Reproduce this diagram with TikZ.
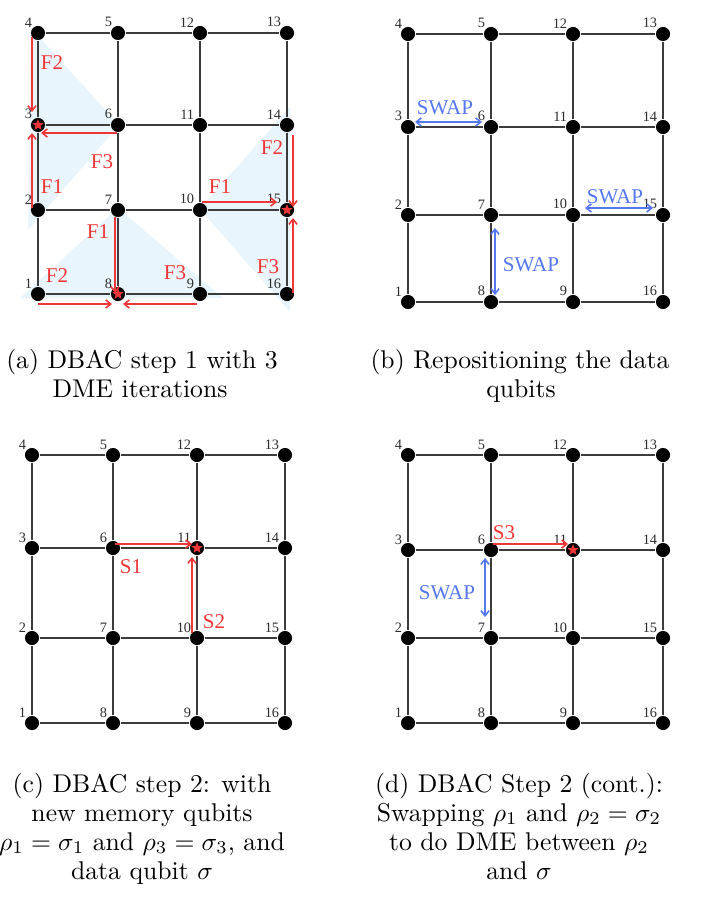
\documentclass[tikz,border=0pt]{standalone}
\usepackage{fontspec}
\usetikzlibrary{calc,arrows.meta,shapes.geometric}
\newfontfamily\labfont{Liberation Serif}
\definecolor{qred}{RGB}{240,55,55}
\definecolor{qblue}{RGB}{85,120,240}
\definecolor{qtri}{RGB}{233,245,253}
\definecolor{qedge}{RGB}{60,60,60}
\definecolor{qnum}{RGB}{45,45,45}
\tikzset{
  qb/.style={circle,fill=black,draw=none,minimum size=5.5pt,inner sep=0pt,label distance=0.3pt},
  qlab/.style={font=\labfont\fontsize{5.6}{6}\selectfont,text=qnum,inner sep=0pt},
  qedgeline/.style={draw=qedge,line width=0.8pt},
  qstar/.style={star,star points=5,star point ratio=2.3,fill=qred,draw=none,minimum size=4.6pt,inner sep=0pt},
  redarr/.style={draw=qred,line width=0.6pt,-{Straight Barb[length=2pt,width=3.2pt]}},
  bluearr/.style={draw=qblue,line width=0.6pt,{Straight Barb[length=2pt,width=3.2pt]}-{Straight Barb[length=2pt,width=3.2pt]}},
  flab/.style={font=\labfont\fontsize{8.2}{9}\selectfont,text=qred,inner sep=0pt},
  slab/.style={font=\labfont\fontsize{8.2}{9}\selectfont,text=qblue,inner sep=0pt},
  captext/.style={font=\fontsize{10}{12}\selectfont,inner sep=0pt,anchor=base}
}
\newcommand\qnode[4]{\node[qb,label={[qlab,name=#1l]north west:#2}] (#1) at (#3,#4) {};}
\newcommand\qgrid[9]{%
  \qnode{#1n4}{4}{#2}{#6}\qnode{#1n5}{5}{#3}{#6}\qnode{#1n12}{12}{#4}{#6}\qnode{#1n13}{13}{#5}{#6}%
  \qnode{#1n3}{3}{#2}{#7}\qnode{#1n6}{6}{#3}{#7}\qnode{#1n11}{11}{#4}{#7}\qnode{#1n14}{14}{#5}{#7}%
  \qnode{#1n2}{2}{#2}{#8}\qnode{#1n7}{7}{#3}{#8}\qnode{#1n10}{10}{#4}{#8}\qnode{#1n15}{15}{#5}{#8}%
  \qnode{#1n1}{1}{#2}{#9}\qnode{#1n8}{8}{#3}{#9}\qnode{#1n9}{9}{#4}{#9}\qnode{#1n16}{16}{#5}{#9}%
  \draw[qedgeline] (#1n4)--(#1n5) (#1n5)--(#1n12) (#1n12)--(#1n13)
    (#1n3)--(#1n6) (#1n6)--(#1n11) (#1n11)--(#1n14)
    (#1n2)--(#1n7) (#1n7)--(#1n10) (#1n10)--(#1n15)
    (#1n1)--(#1n8) (#1n8)--(#1n9) (#1n9)--(#1n16)
    (#1n4)--(#1n3) (#1n3)--(#1n2) (#1n2)--(#1n1)
    (#1n5)--(#1n6) (#1n6)--(#1n7) (#1n7)--(#1n8)
    (#1n12)--(#1n11) (#1n11)--(#1n10) (#1n10)--(#1n9)
    (#1n13)--(#1n14) (#1n14)--(#1n15) (#1n15)--(#1n16);%
}
\begin{document}
\begin{tikzpicture}[x=0.39pt,y=-0.39pt]
\useasboundingbox[fill=white] (0,0) rectangle (706,898);
% ---------- panel (a) ----------
\fill[qtri] (31,28) -- (119,125) -- (28,230) -- cycle;
\fill[qtri] (118,208) -- (223,298) -- (20,298) -- cycle;
\fill[qtri] (290,107) -- (290,312) -- (200,209) -- cycle;
\qgrid{a}{38}{118}{200}{287}{33}{125}{210}{294}
\node[qstar] (as3) at (an3) {};
\node[qstar] (as8) at (an8) {};
\node[qstar] (as15) at (an15) {};
\draw[redarr] ($(an4)+(-6,4)$) -- ($(an3)+(-6,-13)$);
\draw[redarr] ($(an6)+(-1,8)$) -- ($(an3)+(3,8)$);
\draw[redarr] ($(an2)+(-6,-2)$) -- ($(an3)+(-6,8)$);
\draw[redarr] ($(an7)+(-3,7)$) -- ($(an8)+(-3,-1)$);
\draw[redarr] ($(an1)+(0,10)$) -- ($(an8)+(-6,10)$);
\draw[redarr] ($(an9)+(-3,10)$) -- ($(an8)+(5,10)$);
\draw[redarr] ($(an10)+(2,-8)$) -- ($(an15)+(-10,-8)$);
\draw[redarr] ($(an14)+(6,10)$) -- ($(an15)+(6,-3)$);
\draw[redarr] ($(an16)+(6,-1)$) -- ($(an15)+(6,8)$);
\node[flab] (aF2a) at (52,63) {F2};
\node[flab] (aF3a) at (102,162) {F3};
\node[flab] (aF1a) at (52,187) {F1};
\node[flab] (aF1b) at (98,232) {F1};
\node[flab] (aF2b) at (57,276) {F2};
\node[flab] (aF3b) at (175,273) {F3};
\node[flab] (aF1c) at (220,187) {F1};
\node[flab] (aF2c) at (272,148) {F2};
\node[flab] (aF3c) at (268,267) {F3};
\node[captext] (capa1) at (142,368) {(a) DBAC step 1 with 3};
\node[captext] (capa2) at (140,397) {DME iterations};
% ---------- panel (b) ----------
\qgrid{b}{408}{491}{573}{663}{34}{127}{215}{302}
\draw[bluearr] ($(bn3)+(7,-5)$) -- ($(bn6)+(-9,-5)$);
\draw[bluearr] ($(bn10)+(12,-7)$) -- ($(bn15)+(-10,-7)$);
\draw[bluearr] ($(bn7)+(4,13)$) -- ($(bn8)+(4,-7)$);
\node[slab] (bS1) at (445,108) {SWAP};
\node[slab] (bS2) at (615,197) {SWAP};
\node[slab] (bS3) at (531,265) {SWAP};
\node[captext] (capb1) at (520,368) {(b) Repositioning the data};
\node[captext] (capb2) at (521,397) {qubits};
% ---------- panel (c) ----------
\qgrid{c}{32}{113}{197}{285}{455}{548}{638}{723}
\node[qstar] (cs11) at (cn11) {};
\draw[redarr] ($(cn6)+(2,-4)$) -- ($(cn11)+(-5,-4)$);
\draw[redarr] ($(cn10)+(-5,-5)$) -- ($(cn11)+(-5,9)$);
\node[flab] (cS1) at (131,567) {S1};
\node[flab] (cS2) at (214,622) {S2};
\node[captext] (capc1) at (142,792) {(c) DBAC step 2: with};
\node[captext] (capc2) at (142,821) {new memory qubits};
\node[captext] (capc3) at (142,850) {$\rho_1=\sigma_1$ and $\rho_3=\sigma_3$, and};
\node[captext] (capc4) at (142,879) {data qubit $\sigma$};
% ---------- panel (d) ----------
\qgrid{d}{408}{491}{573}{663}{455}{550}{638}{723}
\node[qstar] (ds11) at (dn11) {};
\draw[redarr] ($(dn6)+(2,-6)$) -- ($(dn11)+(-5,-6)$);
\draw[bluearr] ($(dn6)+(-6,8)$) -- ($(dn7)+(-6,-21)$);
\node[flab] (dS3) at (504,533) {S3};
\node[slab] (dS) at (447,593) {SWAP};
\node[captext] (capd1) at (519,792) {(d) DBAC Step 2 (cont.):};
\node[captext] (capd2) at (519,821) {Swapping $\rho_1$ and $\rho_2=\sigma_2$};
\node[captext] (capd3) at (519,850) {to do DME between $\rho_2$};
\node[captext] (capd4) at (519,879) {and $\sigma$};
\end{tikzpicture}
\end{document}
